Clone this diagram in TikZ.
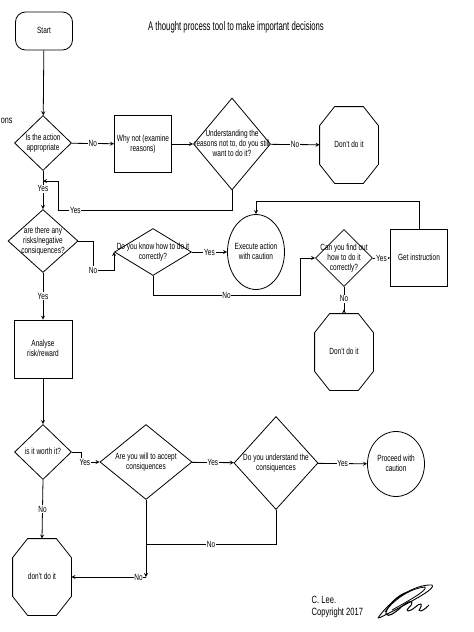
\documentclass[tikz,border=0pt]{standalone}
\usepackage{fontspec}
\setmainfont{Liberation Sans}[FakeStretch=0.72]
\newfontfamily\titlefont{Liberation Sans}[FakeStretch=0.62]
\usetikzlibrary{shapes.geometric,calc}
\newcommand{\ctext}[1]{\smash{\makebox[0pt]{\raisebox{-2.3pt}{\begin{tabular}{@{}c@{}}#1\end{tabular}}}}}
\newcommand{\octagon}[1]{%
  \draw ($(#1.north west)+(15,0)$) -- ($(#1.north east)+(-15,0)$) -- ($(#1.north east)+(0,19)$)
    -- ($(#1.south east)+(0,-19)$) -- ($(#1.south east)+(-15,0)$) -- ($(#1.south west)+(15,0)$)
    -- ($(#1.south west)+(0,-19)$) -- ($(#1.north west)+(0,19)$) -- cycle;}
\begin{document}
\begin{tikzpicture}[>=stealth, x=1pt, y=-1pt, line width=0.8pt,
    every node/.style={font=\fontsize{9}{10}\selectfont},
    term/.style={draw, rectangle, rounded corners=10pt, inner sep=0pt, minimum width=57pt, minimum height=38pt},
    box/.style 2 args={draw, rectangle, inner sep=0pt, minimum width=#1, minimum height=#2},
    decision/.style 2 args={draw, diamond, inner sep=0pt, minimum width=#1, minimum height=#2},
    outcome/.style 2 args={draw, ellipse, inner sep=0pt, minimum width=#1, minimum height=#2},
    stop/.style={rectangle, inner sep=0pt, minimum width=58pt, minimum height=76pt},
    lbl/.style={fill=white, inner sep=0.8pt}]
  \useasboundingbox (0,0) rectangle (474,632);
  % header
  \node[term] (start) at (44,31) {\ctext{Start}};
  \node[font=\titlefont\fontsize{12.5}{14}\selectfont] (title) at (236,27) {A thought process tool to make important decisions};
  \node[anchor=west, inner sep=0pt, font=\fontsize{10}{11}\selectfont] (margin) at (0.5,121) {ons};
  % first row
  \node[decision={57}{55}] (appr) at (43,143) {\ctext{Is the action\\appropriate}};
  \node[box={57}{57}] (whynot) at (143,144) {\ctext{Why not (examine\\reasons)}};
  \node[decision={77}{92}] (still) at (232,144) {\ctext{Understanding the\\reasons not to, do you still\\want to do it?}};
  \node[stop] (dont1) at (349,145) {\ctext{Don't do it}};
  \octagon{dont1}
  % second row
  \node[decision={70}{63}] (risks) at (43,241) {\ctext{are there any\\risks/negative\\consiquences?}};
  \node[decision={77}{47}] (know) at (153,252) {\ctext{Do you know how to do it\\correctly?}};
  \node[outcome={57}{75}] (execute) at (256,252) {\ctext{Execute action\\with caution}};
  \node[decision={57}{57}] (findout) at (344,258) {\ctext{Can you find out\\how to do it\\correctly?}};
  \node[box={57}{57}] (instr) at (419,258) {\ctext{Get instruction}};
  \node[stop] (dont2) at (344,352) {\ctext{Don't do it}};
  \octagon{dont2}
  % third part
  \node[box={58}{58}] (analyse) at (43,349) {\ctext{Analyse\\risk/reward}};
  \node[decision={57}{55}] (worth) at (43,452) {\ctext{is it worth it?}};
  \node[decision={92}{75}] (accept) at (146,462) {\ctext{Are you will to accept\\consiquences}};
  \node[decision={84}{93}] (understand) at (276,463) {\ctext{Do you understand the\\consiquences}};
  \node[outcome={57}{65}] (proceed) at (396,464) {\ctext{Proceed with\\caution}};
  \node[stop] (dont3) at (42,577) {\ctext{don't do it}};
  \octagon{dont3}
  \node[anchor=west, align=left, font=\fontsize{10.5}{11.5}\selectfont] (sign) at (308,607) {C. Lee.\\Copyright 2017};
  % connectors
  \coordinate (j1) at (43,181);
  \coordinate (j2) at (93,270);
  \coordinate (j3) at (300,295);
  \coordinate (j5) at (146,544);
  \coordinate (j6) at (146,577);
  \draw[->] (start) -- (appr);
  \draw[->] (appr) -- node[lbl]{No} (whynot);
  \draw[->] (whynot) -- (still);
  \draw[->] (still) -- node[lbl]{No} (dont1);
  \draw[->] (still.south) -- ++(0,20) -| node[lbl, pos=0.45]{Yes} ($(j1)+(15,0)$) -- (j1);
  \draw[->] (appr.south) -- node[lbl, pos=0.47]{Yes} (risks.north);
  \draw[->] (risks.east) -| (j2) node[lbl]{No} -| (know.west);
  \draw[->] (know) -- node[lbl]{Yes} (execute);
  \draw[->] (know.south) |- (j3) node[lbl, pos=0.75]{No} |- (findout.west);
  \draw[->] (findout) -- node[lbl]{Yes} (instr);
  \draw[->] (instr.north) -- ++(0,-28) -| (execute.north);
  \draw[-stealth reversed] (findout.south) -- node[lbl, pos=0.45]{No} (dont2.north);
  \draw[->] (risks.south) -- node[lbl]{Yes} (analyse.north);
  \draw[->] (analyse) -- (worth);
  \draw[->] (worth.east) -- ++(9,0) |- node[lbl, pos=0.5, xshift=4pt]{Yes} (accept.west);
  \draw[->] (accept) -- node[lbl]{Yes} (understand);
  \draw[->] (understand) -- node[lbl]{Yes} (proceed);
  \draw[->] (worth.south) -- node[lbl]{No} (dont3.north);
  \draw (understand.south) |- node[lbl, pos=0.75]{No} (j5);
  \draw[->] (accept.south) -- (j6);
  \draw[->] (j6) -- node[lbl, pos=0.1]{No} (dont3.east);
  % signature
  \draw[line width=0.9pt, line join=round] (378,618) .. controls (390,600) and (415,584) .. (432,585)
    .. controls (436,588) and (418,598) .. (395,610) .. controls (385,615) and (380,618) .. (378,618);
  \draw[line width=0.8pt, line join=round] (385,612) .. controls (395,598) and (412,588) .. (425,587)
    .. controls (428,590) and (410,600) .. (392,610);
  \draw[line width=1.1pt, line join=round] (408,592) .. controls (398,594) and (385,608) .. (386,614)
    .. controls (388,618) and (396,612) .. (400,608);
  \draw[line width=1pt, line join=round] (398,610) .. controls (404,604) and (410,600) .. (412,602)
    .. controls (413,606) and (404,610) .. (408,611) .. controls (413,611) and (418,603) .. (421,604)
    .. controls (423,607) and (416,611) .. (421,611) .. controls (424,610) and (427,607) .. (429,605);
\end{tikzpicture}
\end{document}
